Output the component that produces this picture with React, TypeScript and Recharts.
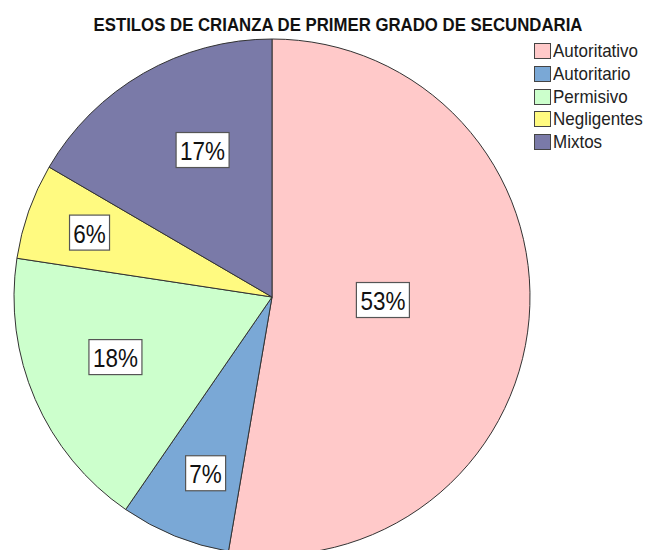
import { PieChart, Pie, Cell, Legend } from "recharts"

const categories = ["Autoritativo", "Autoritario", "Permisivo", "Negligentes", "Mixtos"]
const shares = [52.7, 6.9, 17.8, 6.0, 16.6]
const colors = ["#ffc9c9", "#7aa8d6", "#ccffcc", "#fffa80", "#7a7aa8"]

// where each % box sits: fraction of the radius, and a small turn (deg, clockwise)
const labelRadius = [0.43, 0.73, 0.65, 0.75, 0.63]
const labelTurn = [-3.3, -1.5, 2.4, 0, 4.6]

const data = categories.map((name, i) => ({ name, value: shares[i], color: colors[i] }))

const FONT = "'Liberation Sans', Arial, sans-serif"
const RAD = Math.PI / 180

function PctLabel(props: any) {
  const { cx, cy, midAngle, outerRadius, percent, index } = props
  const r = outerRadius * labelRadius[index]
  const a = midAngle - labelTurn[index]
  const x = cx + r * Math.cos(-a * RAD)
  const y = cy + r * Math.sin(-a * RAD)
  const txt = `${Math.round(percent * 100)}%`
  const w = txt.length === 2 ? 40 : 53
  return (
    <g>
      <rect x={x - w / 2} y={y - 17.5} width={w} height={35} fill="#fff" stroke="#555" strokeWidth={1.2} />
      <text
        transform={`translate(${x},${y + 1}) scale(1,1.12)`}
        textAnchor="middle"
        dominantBaseline="central"
        fontFamily={FONT}
        fontSize={22.5}
        fill="#111"
      >
        {txt}
      </text>
    </g>
  )
}

function LegendBox() {
  return (
    <div style={{ fontFamily: FONT }}>
      {data.map((d) => (
        <div key={d.name} style={{ display: "flex", alignItems: "center", height: 22.7 }}>
          <span
            style={{
              width: 15,
              height: 14,
              background: d.color,
              border: "1px solid #444",
              marginRight: 2,
            }}
          />
          <span style={{ fontSize: 17, color: "#222", display: "inline-block", transform: "scaleY(1.12)" }}>
            {d.name}
          </span>
        </div>
      ))}
    </div>
  )
}

export default function App() {
  return (
    <div style={{ position: "absolute", left: 0, top: 0, width: 648, height: 550, background: "#fff" }}>
      <div
        style={{
          position: "absolute",
          left: 38,
          top: 15,
          width: 600,
          textAlign: "center",
          fontFamily: FONT,
          fontWeight: "bold",
          fontSize: 16.8,
          color: "#111",
          whiteSpace: "nowrap",
          transform: "scaleY(1.1)",
        }}
      >
        ESTILOS DE CRIANZA DE PRIMER GRADO DE SECUNDARIA
      </div>
      <PieChart width={648} height={550} margin={{ top: 0, right: 0, bottom: 0, left: 0 }}>
        <Pie
          data={data}
          dataKey="value"
          nameKey="name"
          cx={272}
          cy={297}
          outerRadius={258}
          startAngle={90}
          endAngle={-270}
          stroke="#333"
          strokeWidth={1}
          label={PctLabel}
          labelLine={false}
          isAnimationActive={false}
        >
          {data.map((d) => (
            <Cell key={d.name} fill={d.color} />
          ))}
        </Pie>
        <Legend
          layout="vertical"
          verticalAlign="top"
          align="right"
          content={<LegendBox />}
          wrapperStyle={{ left: 534, top: 40, width: 114 }}
        />
      </PieChart>
    </div>
  )
}
